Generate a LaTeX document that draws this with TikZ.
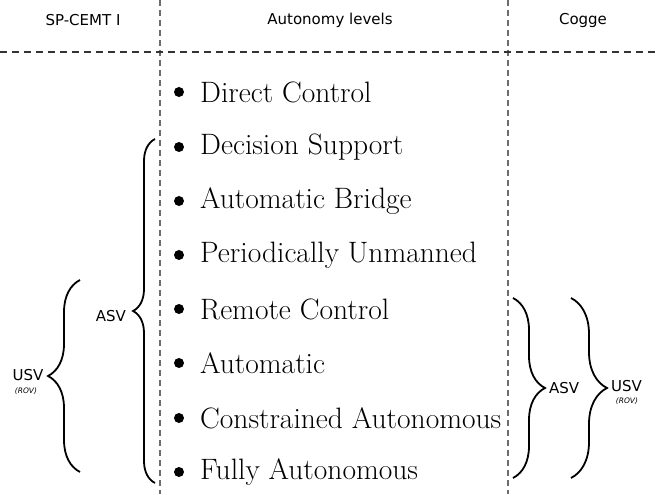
\documentclass[tikz,border=0pt]{standalone}
\usepackage{fontspec}
\newfontfamily\headfont{DejaVu Sans}
\usetikzlibrary{decorations.pathreplacing}
\tikzset{
  divider/.style={draw=gray!85!black, line width=1.2pt, dash pattern=on 6pt off 4pt},
  rule/.style={draw=black!80, line width=1.1pt, dash pattern=on 7pt off 5pt},
  header/.style={font=\headfont\fontsize{15}{18}\selectfont, anchor=center},
  level/.style={font=\fontsize{29.5}{34}\selectfont, anchor=west, inner sep=0pt},
  dot/.style={circle, fill=black, inner sep=0pt, minimum size=10pt},
  bracelabel/.style={font=\headfont\fontsize{15}{18}\selectfont, inner sep=1pt},
  sublabel/.style={font=\headfont\itshape\fontsize{7.5}{9}\selectfont, inner sep=0pt},
  curly/.style={draw, line width=1.8pt, decorate,
    decoration={brace, amplitude=#1, aspect=0.5}},
}
\begin{document}
\begin{tikzpicture}[x=1pt, y=-1pt]
\useasboundingbox (0,0) rectangle (659,494);

% column dividers and header rule
\coordinate (d1t) at (160,0);  \coordinate (d1b) at (160,494);
\coordinate (d2t) at (508,0);  \coordinate (d2b) at (508,494);
\coordinate (rl) at (0,52);    \coordinate (rr) at (659,52);
\draw[divider] (d1t) -- (d1b);
\draw[divider] (d2t) -- (d2b);
\draw[rule] (rl) -- (rr);

% column headings
\node[header] (h1) at (83,20) {SP-CEMT I};
\node[header] (h2) at (330,20) {Autonomy levels};
\node[header] (h3) at (583,20) {Cogge};

% autonomy levels
\foreach \i/\txt [count=\k] in {
  92/Direct Control,
  147/Decision Support,
  201/Automatic Bridge,
  255/Periodically Unmanned,
  309/Remote Control,
  363/Automatic,
  418/Constrained Autonomous,
  472/Fully Autonomous} {
  \node[dot] (b\k) at (179,\i) {};
  \node[level] (l\k) at (200,\i) {\txt};
}

% SP-CEMT I groupings
\coordinate (aT) at (155,139);
\coordinate (aB) at (155,483);
\draw[curly=22pt] (aB) -- (aT);
\node[bracelabel, anchor=east] (asvL) at (127,316) {ASV};

\coordinate (uT) at (80,280);
\coordinate (uB) at (80,472);
\draw[curly=32pt] (uB) -- (uT);
\node[bracelabel] (usvL) at (28,375) {USV};
\node[sublabel] (rovL) at (26,391) {(ROV)};

% Cogge groupings
\coordinate (cT) at (513,298);
\coordinate (cB) at (513,478);
\draw[curly=32pt] (cT) -- (cB);
\node[bracelabel, anchor=west] (asvR) at (548,388) {ASV};

\coordinate (eT) at (571,298);
\coordinate (eB) at (571,478);
\draw[curly=36pt] (eT) -- (eB);
\node[bracelabel, anchor=west] (usvR) at (610,386) {USV};
\node[sublabel] (rovR) at (627,401) {(ROV)};
\end{tikzpicture}
\end{document}
